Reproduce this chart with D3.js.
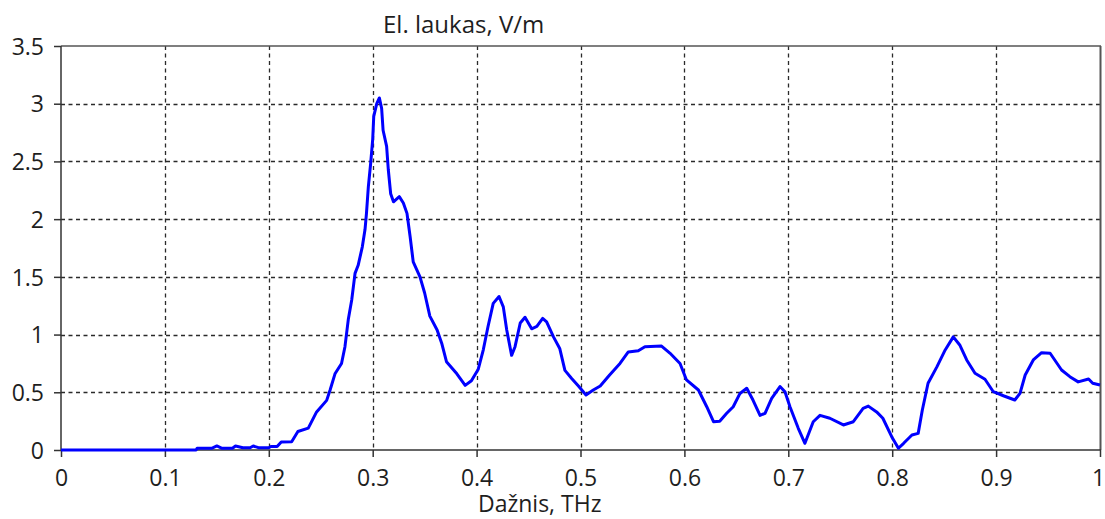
<!DOCTYPE html>
<html>
<head>
<meta charset="utf-8">
<script src="https://cdn.jsdelivr.net/npm/d3@7"></script>
<style>
  html, body { margin: 0; padding: 0; background: #fff; }
  svg { display: block; }
  .tick text { font-family: "Open Sans", sans-serif; font-size: 23px; fill: #1e1e1e; }
</style>
</head>
<body>
<svg id="chart" width="1105" height="519"></svg>
<script>
// Frequency (THz) and field amplitude (V/m) samples of the spectrum
const freq = [
  0, 0.13, 0.131, 0.145, 0.15, 0.155, 0.165, 0.168, 0.175, 0.182, 0.185, 0.19, 0.2, 0.202, 0.208,
  0.212, 0.222, 0.228, 0.238, 0.246, 0.2557, 0.259, 0.2637, 0.270, 0.2733, 0.2765, 0.2798, 0.283,
  0.286, 0.290, 0.2926, 0.294, 0.2958, 0.298, 0.300, 0.301, 0.3039, 0.3064, 0.3086, 0.310, 0.3134,
  0.315, 0.3173, 0.320, 0.3256, 0.3295, 0.333, 0.336, 0.339, 0.3455, 0.350, 0.355, 0.362, 0.3664,
  0.371, 0.381, 0.389, 0.395, 0.4016, 0.4065, 0.411, 0.416, 0.4216, 0.4257, 0.429, 0.4337, 0.437,
  0.442, 0.4466, 0.453, 0.458, 0.4636, 0.4674, 0.474, 0.480, 0.485, 0.4915, 0.498, 0.5053, 0.5123,
  0.519, 0.528, 0.538, 0.546, 0.5556, 0.562, 0.578, 0.586, 0.5958, 0.602, 0.6135, 0.6215, 0.628,
  0.634, 0.6407, 0.647, 0.6535, 0.66, 0.666, 0.6728, 0.6776, 0.684, 0.692, 0.6968, 0.7016, 0.7096,
  0.716, 0.724, 0.7305, 0.74, 0.753, 0.7626, 0.772, 0.777, 0.785, 0.791, 0.7995, 0.806, 0.811,
  0.819, 0.825, 0.829, 0.8345, 0.843, 0.851, 0.8588, 0.865, 0.8717, 0.8797, 0.8893, 0.8973, 0.907,
  0.918, 0.923, 0.928, 0.9358, 0.9438, 0.952, 0.963, 0.971, 0.979, 0.989, 0.993, 1.0
];
const field = [
  0, 0, 0.015, 0.015, 0.035, 0.015, 0.015, 0.035, 0.02, 0.02, 0.035, 0.02, 0.02, 0.03, 0.03,
  0.07, 0.072, 0.16, 0.19, 0.33, 0.43, 0.52, 0.66, 0.75, 0.895, 1.13, 1.30, 1.53,
  1.60, 1.76, 1.91, 2.05, 2.28, 2.48, 2.69, 2.89, 3.00, 3.05, 2.96, 2.77, 2.63,
  2.43, 2.22, 2.15, 2.195, 2.14, 2.05, 1.85, 1.63, 1.50, 1.36, 1.16, 1.04, 0.925,
  0.765, 0.66, 0.56, 0.60, 0.70, 0.87, 1.07, 1.27, 1.33, 1.24, 1.04, 0.82, 0.895,
  1.10, 1.15, 1.05, 1.07, 1.14, 1.11, 0.98, 0.88, 0.69, 0.62, 0.555, 0.477, 0.52,
  0.555, 0.65, 0.75, 0.85, 0.86, 0.895, 0.90, 0.84, 0.75, 0.607, 0.52, 0.375, 0.245,
  0.25, 0.318, 0.375, 0.49, 0.535, 0.433, 0.30, 0.318, 0.448, 0.55, 0.505, 0.375, 0.188,
  0.058, 0.245, 0.30, 0.275, 0.217, 0.245, 0.36, 0.38, 0.33, 0.275, 0.115, 0.015, 0.058,
  0.13, 0.144, 0.347, 0.578, 0.72, 0.867, 0.98, 0.91, 0.78, 0.665, 0.613, 0.505, 0.47,
  0.433, 0.49, 0.65, 0.78, 0.843, 0.838, 0.693, 0.635, 0.59, 0.615, 0.578, 0.563
];

// Axis ticks and labels
const xTicks = [0, 0.1, 0.2, 0.3, 0.4, 0.5, 0.6, 0.7, 0.8, 0.9, 1];
const xTickLabels = ["0", "0.1", "0.2", "0.3", "0.4", "0.5", "0.6", "0.7", "0.8", "0.9", "1"];
const yTicks = [0, 0.5, 1, 1.5, 2, 2.5, 3, 3.5];
const yTickLabels = ["0", "0.5", "1", "1.5", "2", "2.5", "3", "3.5"];

const titleText = "El. laukas, V/m";
const xAxisTitle = "Dažnis, THz";

const svg = d3.select("#chart");
const plotLeft = 61, plotRight = 1100, plotTop = 46, plotBottom = 450;

const x = d3.scaleLinear().domain([0, 1]).range([plotLeft, plotRight]);
const y = d3.scaleLinear().domain([0, 3.5]).range([plotBottom, plotTop]);

// Dashed grid
const grid = svg.append("g").attr("stroke", "#2a2a2a").attr("stroke-width", 1.3)
  .attr("stroke-dasharray", "4,3.5");
grid.selectAll("line.v").data(xTicks.slice(1, -1)).join("line")
  .attr("x1", d => Math.round(x(d)) + 0.5).attr("x2", d => Math.round(x(d)) + 0.5)
  .attr("y1", plotTop).attr("y2", plotBottom);
grid.selectAll("line.h").data(yTicks.slice(1, -1)).join("line")
  .attr("x1", plotLeft).attr("x2", plotRight)
  .attr("y1", d => Math.round(y(d)) + 0.5).attr("y2", d => Math.round(y(d)) + 0.5);

// Axes
const xAxis = d3.axisBottom(x).tickValues(xTicks)
  .tickFormat((d, i) => xTickLabels[i]).tickSizeInner(7).tickSizeOuter(0).tickPadding(13);
const yAxis = d3.axisLeft(y).tickValues(yTicks)
  .tickFormat((d, i) => yTickLabels[i]).tickSizeInner(7).tickSizeOuter(0).tickPadding(10);

const gx = svg.append("g").attr("transform", `translate(0,${plotBottom})`).call(xAxis);
const gy = svg.append("g").attr("transform", `translate(${plotLeft},0)`).call(yAxis);
[gx, gy].forEach(g => {
  g.select(".domain").remove();
  g.selectAll(".tick line").attr("stroke", "#333").attr("stroke-width", 1.5);
});
gy.selectAll(".tick text").attr("dy", "0.36em");
gx.selectAll(".tick text").attr("dy", "0.7em");
// keep the last label inside the page edge
gx.selectAll(".tick text").filter((d, i) => i === xTicks.length - 1).attr("dx", -2);

// Frame
svg.append("line").attr("x1", plotLeft).attr("x2", plotRight + 1).attr("y1", plotTop).attr("y2", plotTop)
  .attr("stroke", "#555").attr("stroke-width", 1.6);
svg.append("line").attr("x1", plotRight + 0.5).attr("x2", plotRight + 0.5).attr("y1", plotTop).attr("y2", plotBottom)
  .attr("stroke", "#555").attr("stroke-width", 2);
svg.append("line").attr("x1", plotLeft).attr("x2", plotLeft).attr("y1", plotTop).attr("y2", plotBottom)
  .attr("stroke", "#333").attr("stroke-width", 1.5);
svg.append("line").attr("x1", plotLeft).attr("x2", plotRight + 1).attr("y1", plotBottom).attr("y2", plotBottom)
  .attr("stroke", "#333").attr("stroke-width", 1.5);

// Spectrum curve
const pts = freq.map((f, i) => [f, field[i]]);
const line = d3.line().x(d => x(d[0])).y(d => y(d[1]));
svg.append("path").datum(pts)
  .attr("d", line)
  .attr("fill", "none")
  .attr("stroke", "#0000ff")
  .attr("stroke-width", 3)
  .attr("stroke-linejoin", "round");

// Titles
svg.append("text").attr("x", 383).attr("y", 33)
  .attr("font-family", "Open Sans, sans-serif").attr("font-size", 24).attr("fill", "#1e1e1e")
  .text(titleText);
svg.append("text").attr("x", 478).attr("y", 512)
  .attr("font-family", "Open Sans, sans-serif").attr("font-size", 23).attr("fill", "#1e1e1e")
  .text(xAxisTitle);
</script>
</body>
</html>
